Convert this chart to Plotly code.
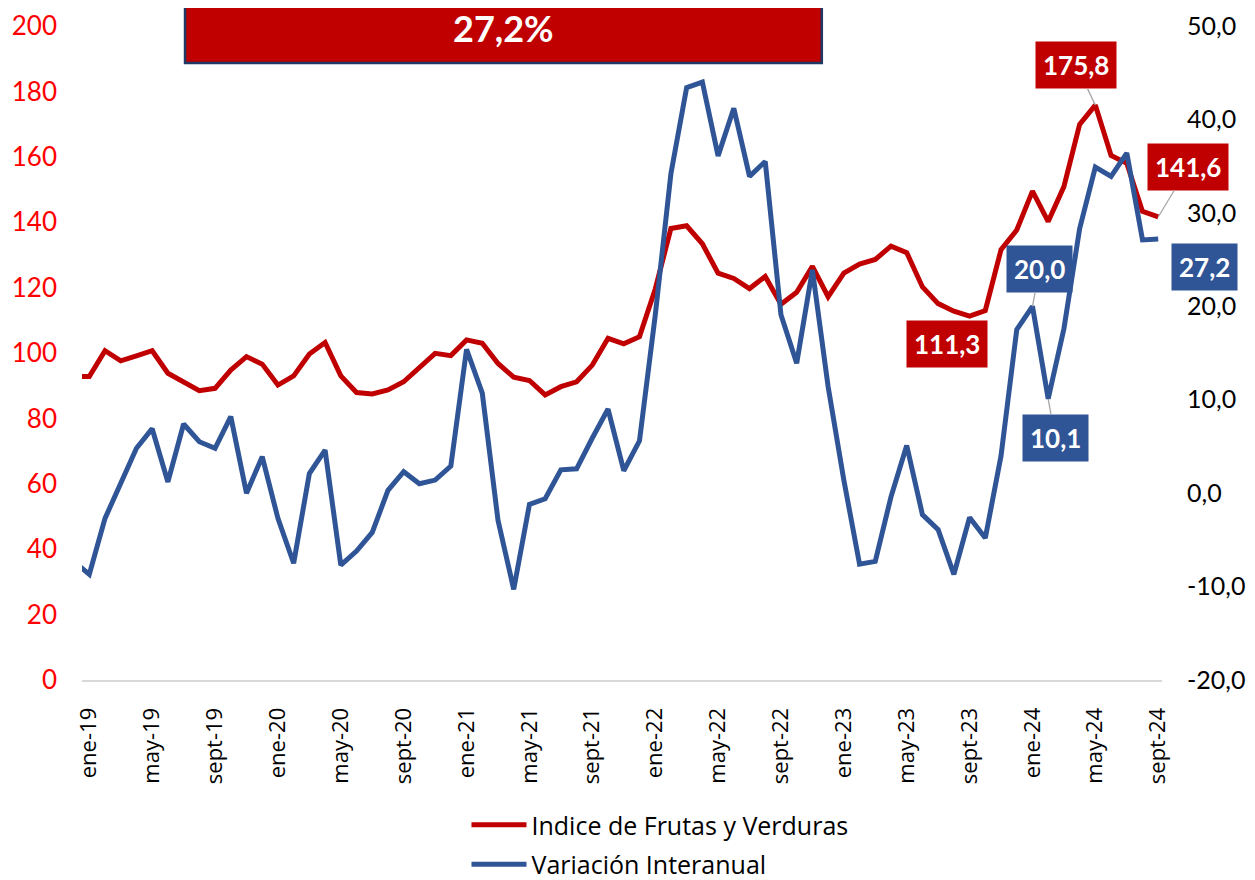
import plotly.graph_objects as go

# ---------------- data ----------------
months = ["dic-18",
          "ene-19", "feb-19", "mar-19", "abr-19", "may-19", "jun-19", "jul-19", "ago-19", "sept-19", "oct-19", "nov-19", "dic-19",
          "ene-20", "feb-20", "mar-20", "abr-20", "may-20", "jun-20", "jul-20", "ago-20", "sept-20", "oct-20", "nov-20", "dic-20",
          "ene-21", "feb-21", "mar-21", "abr-21", "may-21", "jun-21", "jul-21", "ago-21", "sept-21", "oct-21", "nov-21", "dic-21",
          "ene-22", "feb-22", "mar-22", "abr-22", "may-22", "jun-22", "jul-22", "ago-22", "sept-22", "oct-22", "nov-22", "dic-22",
          "ene-23", "feb-23", "mar-23", "abr-23", "may-23", "jun-23", "jul-23", "ago-23", "sept-23", "oct-23", "nov-23", "dic-23",
          "ene-24", "feb-24", "mar-24", "abr-24", "may-24", "jun-24", "jul-24", "ago-24", "sept-24"]

indice_fyv = [92.8,
              92.8, 100.7, 97.6, 99.1, 100.7, 93.8, 91.2, 88.5, 89.2, 94.8, 98.9, 96.6,
              90.2, 93.0, 99.7, 103.2, 93.0, 87.9, 87.5, 88.7, 91.2, 95.8, 99.9, 99.2,
              104.0, 103.0, 96.8, 92.6, 91.6, 87.2, 89.7, 91.2, 96.3, 104.5, 102.8, 105.0,
              119.5, 138.1, 138.9, 133.4, 124.4, 122.8, 119.7, 123.4, 114.9, 118.6, 126.5, 117.2,
              124.4, 127.2, 128.6, 132.7, 130.7, 120.2, 115.1, 112.8, 111.3, 113.0, 131.6, 137.6,
              149.5, 140.2, 150.9, 169.9, 175.8, 160.4, 158.0, 143.3, 141.6]

variacion = [-7.3,
             -8.7, -2.7, 1.0, 4.8, 6.9, 1.2, 7.4, 5.5, 4.8, 8.2, 0.0, 3.9,
             -2.7, -7.5, 2.1, 4.6, -7.7, -6.2, -4.2, 0.3, 2.3, 1.0, 1.4, 2.9,
             15.4, 10.7, -2.9, -10.3, -1.2, -0.6, 2.5, 2.6, 5.9, 9.0, 2.4, 5.6,
             19.0, 34.2, 43.4, 44.0, 36.1, 41.2, 33.9, 35.5, 19.1, 13.9, 23.9, 11.4,
             1.4, -7.6, -7.3, -0.4, 5.1, -2.3, -3.9, -8.7, -2.6, -4.8, 4.0, 17.5,
             20.0, 10.1, 17.6, 28.3, 34.9, 33.9, 36.4, 27.1, 27.2]

x_ticklabels = ["ene-19", "may-19", "sept-19", "ene-20", "may-20", "sept-20", "ene-21", "may-21", "sept-21",
                "ene-22", "may-22", "sept-22", "ene-23", "may-23", "sept-23", "ene-24", "may-24", "sept-24"]
left_ticks = [0, 20, 40, 60, 80, 100, 120, 140, 160, 180, 200]
right_ticks = [-20, -10, 0, 10, 20, 30, 40, 50]
right_ticklabels = ["-20,0", "-10,0", "0,0", "10,0", "20,0", "30,0", "40,0", "50,0"]
headline = "27,2%"

red_labels = [("may-24", "175,8"), ("sept-23", "111,3"), ("sept-24", "141,6")]
blue_labels = [("ene-24", "20,0"), ("feb-24", "10,1"), ("sept-24", "27,2")]

# ---------------- figure ----------------
RED = "#C00000"
BLUE = "#2F5597"
xs = [i - 1 for i in range(len(months))]  # dic-18 at -1, ene-19 at 0
pos = {m: i - 1 for i, m in enumerate(months)}

fig = go.Figure()
fig.add_trace(go.Scatter(x=xs, y=indice_fyv, mode="lines", name="Indice de Frutas y Verduras",
                         legendgroup="a", line=dict(color=RED, width=5), yaxis="y"))
fig.add_trace(go.Scatter(x=xs, y=variacion, mode="lines", name="Variación Interanual",
                         legendgroup="b", line=dict(color=BLUE, width=5), yaxis="y2"))

label_font = dict(family="Lato", size=26, color="white", weight="bold")

red_offsets = {"may-24": dict(showarrow=True, ax=-19, ay=-40),
               "sept-23": dict(showarrow=False, xshift=-23, yshift=-28),
               "sept-24": dict(showarrow=True, ax=30, ay=-50)}
for m, t in red_labels:
    fig.add_annotation(x=pos[m], y=indice_fyv[pos[m] + 1], xref="x", yref="y", text=t,
                       font=label_font, bgcolor=RED, borderpad=7,
                       arrowhead=0, arrowwidth=1.3, arrowcolor="#A6A6A6", standoff=0,
                       **red_offsets[m])

blue_offsets = {"ene-24": dict(showarrow=True, ax=7, ay=-37),
                "feb-24": dict(showarrow=True, ax=7, ay=39),
                "sept-24": dict(showarrow=False, xshift=46, yshift=-28)}
for m, t in blue_labels:
    fig.add_annotation(x=pos[m], y=variacion[pos[m] + 1], xref="x", yref="y2", text=t,
                       font=label_font, bgcolor=BLUE, borderpad=7,
                       arrowhead=0, arrowwidth=1.3, arrowcolor="#A6A6A6", standoff=0,
                       **blue_offsets[m])

# headline box
fig.add_shape(type="rect", xref="paper", yref="paper", x0=0.0954, x1=0.685, y0=0.9434, y1=1.06,
              fillcolor=RED, line=dict(color="#1F3864", width=2.5), layer="above")
fig.add_annotation(xref="paper", yref="paper", x=0.39, y=0.9965, text=headline, showarrow=False,
                   font=dict(family="Lato", size=36, color="white", weight="bold"),
                   xanchor="center", yanchor="middle")

# page body has an 8px margin: figure origin sits at (8, 8) in the screenshot.
# The figure is taller than the viewport so the legend never pushes the margins.
fig.update_layout(
    width=1247, height=930,
    margin=dict(l=74, r=93, t=18, b=258),
    paper_bgcolor="white", plot_bgcolor="white",
    showlegend=True,
    legend=dict(orientation="v", x=0.356, xanchor="left", y=-0.1866, yanchor="top",
                font=dict(family="Open Sans", size=25, color="black"), tracegroupgap=4,
                itemwidth=55, bgcolor="rgba(0,0,0,0)"),
    xaxis=dict(range=[-0.464, 68.24], tickmode="array",
               tickvals=[pos[m] for m in x_ticklabels], ticktext=x_ticklabels,
               tickangle=-90, tickfont=dict(family="Open Sans", size=22, color="black"),
               showgrid=False, zeroline=False, showline=True, linecolor="#D9D9D9", linewidth=2,
               ticks="", automargin=False, ticklabelstandoff=17),
    yaxis=dict(range=[0, 200], tickmode="array", tickvals=left_ticks,
               tickfont=dict(family="Lato", size=26, color="#FF0000"),
               showgrid=False, zeroline=False, showline=False, ticks="", automargin=False,
               ticklabelstandoff=24),
    yaxis2=dict(range=[-20, 50], overlaying="y", side="right", tickmode="array",
                tickvals=right_ticks, ticktext=right_ticklabels,
                tickfont=dict(family="Lato", size=25, color="black"),
                showgrid=False, zeroline=False, showline=False, ticks="", automargin=False,
                ticklabelstandoff=24),
)

fig.write_html("out.html")
